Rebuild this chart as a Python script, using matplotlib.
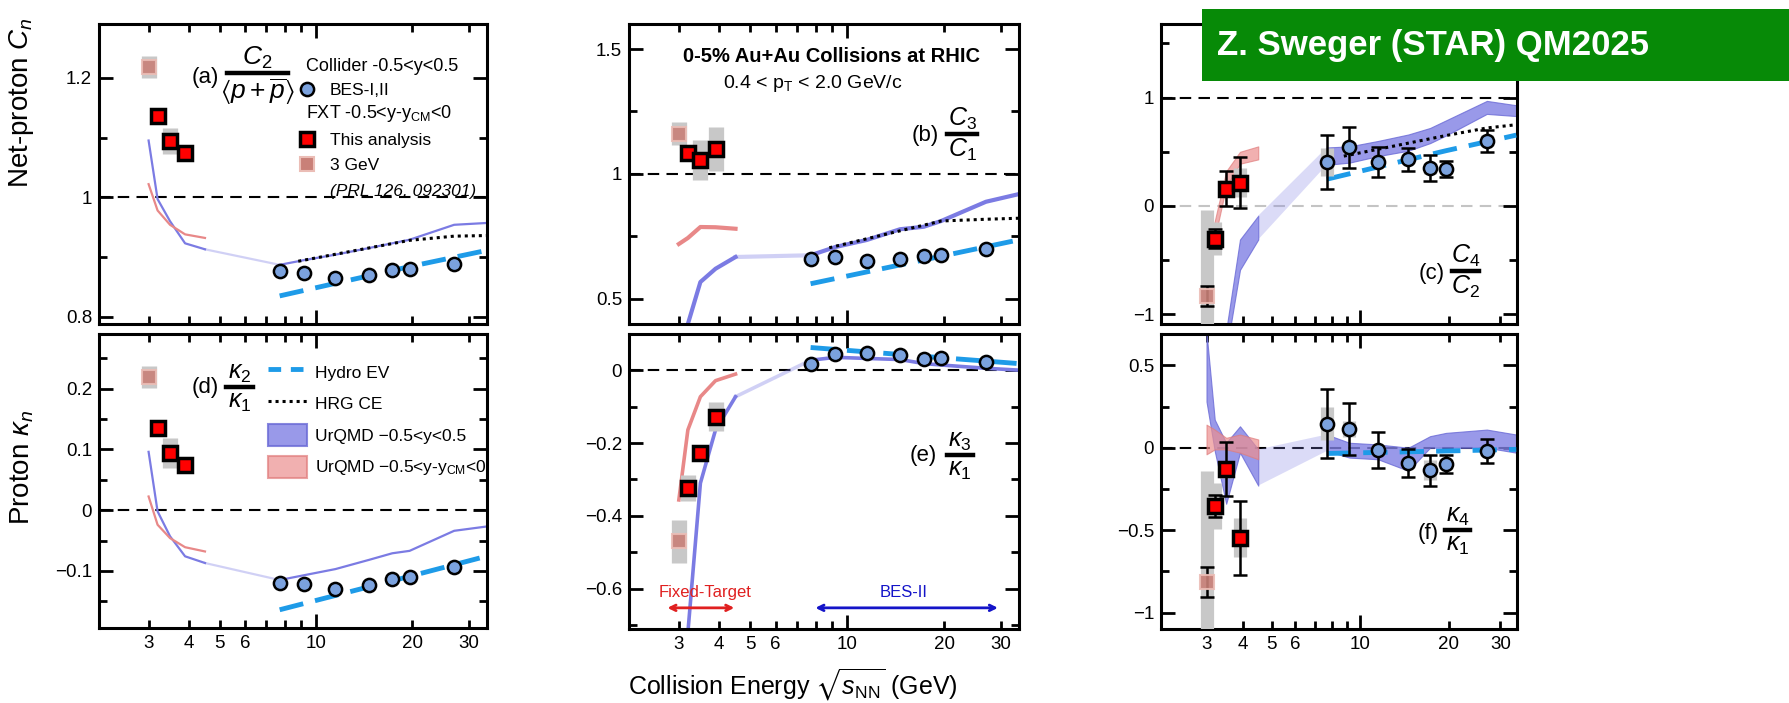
import numpy as np
import matplotlib
matplotlib.use("Agg")
import matplotlib.pyplot as plt
from matplotlib.lines import Line2D
from matplotlib.patches import Patch, Rectangle
from matplotlib import font_manager

nan = np.nan

# ---------------- data ----------------
E_bes = [7.7, 9.2, 11.5, 14.6, 17.3, 19.6, 27.0]
E_fxt = [3.2, 3.5, 3.9]
E_3gev = [3.0]
E_uq_low = [3.0, 3.2, 3.5, 3.9, 4.5]
E_uq_high = [7.7, 9.2, 11.5, 14.6, 17.3, 19.6, 27.0, 34.0]
E_hydro = [7.7, 19.6, 34.0]
E_hrg = [8.8, 19.6, 27.0, 34.0]

x_major = [10]
x_minor = [3, 4, 5, 6, 7, 8, 9, 20, 30]
x_minor_labels = ['3', '4', '5', '6', '', '', '', '20', '30']

# (a) C2/<p+pbar>
a_bes = [0.876, 0.873, 0.865, 0.870, 0.878, 0.880, 0.888]
a_fxt = [1.136, 1.094, 1.074]
a_fxt_sys = [0.008, 0.022, 0.010]
a_3gev = [1.218]
a_3gev_sys = [0.018]
a_uq_low = [1.095, 0.997, 0.960, 0.923, 0.913]
a_uq_high = [0.887, 0.895, 0.904, 0.915, 0.923, 0.929, 0.954, 0.957]
a_uqf = [1.022, 0.978, 0.954, 0.938, 0.932]
a_hydro = [0.835, 0.884, 0.911]
a_hrg = [0.893, 0.928, 0.935, 0.936]

# (b) C3/C1
b_bes = [0.659, 0.669, 0.652, 0.659, 0.672, 0.676, 0.699]
b_fxt = [1.083, 1.055, 1.099]
b_fxt_sys = [0.030, 0.080, 0.088]
b_3gev = [1.161]
b_3gev_sys = [0.047]
b_uq_low = [nan, 0.40, 0.568, 0.621, 0.668]
b_uq_high = [0.675, 0.708, 0.736, 0.779, 0.789, 0.812, 0.889, 0.919]
b_uqf = [0.720, 0.744, 0.788, 0.787, 0.781]
b_hydro = [0.561, 0.671, 0.736]
b_hrg = [0.705, 0.812, 0.819, 0.823]

# (c) C4/C2
c_bes = [0.407, 0.540, 0.407, 0.432, 0.346, 0.340, 0.602]
c_bes_stat = [0.25, 0.19, 0.14, 0.105, 0.12, 0.074, 0.10]
c_bes_sys = [0.13, 0.05, 0.05, 0.04, 0.05, 0.03, 0.05]
c_fxt = [-0.302, 0.160, 0.216]
c_fxt_stat = [0.09, 0.165, 0.236]
c_fxt_sys = [0.15, 0.08, 0.13]
c_3gev = [-0.833]
c_3gev_stat = [0.09]
c_3gev_sys = [0.80]
c_uq_lo_low = [nan, nan, -1.35, -0.59, -0.31]
c_uq_hi_low = [nan, nan, -1.15, -0.31, -0.09]
c_uq_lo_high = [0.38, 0.40, 0.46, 0.51, 0.58, 0.65, 0.85, 0.83]
c_uq_hi_high = [0.54, 0.55, 0.60, 0.66, 0.72, 0.79, 0.97, 0.93]
c_uqf_lo = [-0.95, -0.30, 0.18, 0.39, 0.43]
c_uqf_hi = [-0.75, -0.14, 0.32, 0.50, 0.55]
c_hydro = [0.247, 0.51, 0.654]
c_hrg = [0.46, 0.65, 0.72, 0.75]

# (d) kappa2/kappa1
d_bes = [-0.120, -0.122, -0.129, -0.123, -0.114, -0.110, -0.093]
d_fxt = [0.135, 0.094, 0.075]
d_fxt_sys = [0.006, 0.025, 0.008]
d_3gev = [0.219]
d_3gev_sys = [0.018]
d_uq_low = [0.096, -0.002, -0.043, -0.076, -0.087]
d_uq_high = [-0.115, -0.107, -0.097, -0.082, -0.071, -0.067, -0.034, -0.027]
d_uqf = [0.0225, -0.024, -0.046, -0.061, -0.068]
d_hydro = [-0.164, -0.109, -0.076]

# (e) kappa3/kappa1
e_bes = [0.018, 0.043, 0.047, 0.041, 0.030, 0.032, 0.021]
e_fxt = [-0.324, -0.226, -0.128]
e_fxt_sys = [0.035, 0.010, 0.040]
e_3gev = [-0.470]
e_3gev_sys = [0.058]
e_uq_low = [nan, -0.72, -0.31, -0.164, -0.073]
e_uq_high = [0.027, 0.035, 0.032, 0.029, 0.018, 0.014, 0.005, 0.0]
e_uqf = [-0.356, -0.164, -0.073, -0.029, -0.011]
e_hydro = [0.062, 0.034, 0.018]

# (f) kappa4/kappa1
f_bes = [0.146, 0.115, -0.014, -0.091, -0.136, -0.101, -0.020]
f_bes_stat = [0.21, 0.157, 0.108, 0.086, 0.094, 0.055, 0.071]
f_bes_sys = [0.10, 0.05, 0.03, 0.03, 0.06, 0.03, 0.03]
f_fxt = [-0.354, -0.131, -0.546]
f_fxt_stat = [0.066, 0.165, 0.225]
f_fxt_sys = [0.14, 0.05, 0.12]
f_3gev = [-0.814]
f_3gev_stat = [0.093]
f_3gev_sys = [0.67]
f_uq_lo_low = [0.28, -0.02, -0.34, -0.03, -0.23]
f_uq_hi_low = [0.70, 0.17, 0.03, 0.13, -0.01]
f_uq_lo_high = [-0.02, -0.06, -0.07, -0.14, 0.0, 0.0, 0.0, -0.03]
f_uq_hi_high = [0.08, 0.03, 0.02, 0.0, 0.07, 0.09, 0.11, 0.08]
f_uqf_lo = [-0.04, -0.01, -0.01, -0.03, -0.07]
f_uqf_hi = [0.14, 0.11, 0.06, 0.08, 0.05]
f_hydro = [-0.035, -0.02, -0.01]

# ---------------- style ----------------
plt.rcParams['font.family'] = ['Liberation Sans', 'DejaVu Sans']
plt.rcParams['mathtext.fontset'] = 'custom'
plt.rcParams['mathtext.rm'] = 'Liberation Sans'
plt.rcParams['mathtext.it'] = 'Liberation Sans:italic'
plt.rcParams['mathtext.bf'] = 'Liberation Sans:bold'
plt.rcParams['mathtext.sf'] = 'Liberation Sans'
plt.rcParams['mathtext.fallback'] = 'stixsans'

HYDRO = '#1e9be8'
UQB = '#7b7be3'
UQB_EDGE = '#6a6ad6'
UQR = '#e88888'
GRAY = '#c8c8c8'
CIRC = '#7ba2de'
BROWN = '#c98078'
BROWN_EDGE = '#ebbdb6'

W, H = 1790, 703
fig = plt.figure(figsize=(W / 100, H / 100), dpi=100)


def ax_at(l, t, r, b):
    return fig.add_axes([l / W, 1 - b / H, (r - l) / W, (b - t) / H])


def style(ax, ylim, yt, ytl, ymin, bottom):
    ax.set_xscale('log')
    ax.set_xlim(2.1, 34.2)
    ax.set_ylim(*ylim)
    ax.set_xticks(x_major)
    ax.set_xticks(x_minor, minor=True)
    if bottom:
        ax.set_xticklabels(['10'])
        ax.set_xticklabels(x_minor_labels, minor=True)
    else:
        ax.set_xticklabels([''])
        ax.set_xticklabels([''] * len(x_minor), minor=True)
    ax.set_yticks(yt)
    ax.set_yticklabels(ytl)
    ax.set_yticks(ymin, minor=True)
    ax.tick_params(which='both', direction='in', top=True, right=True,
                   width=2, labelsize=13.5, pad=5)
    ax.tick_params(which='major', length=10)
    ax.tick_params(which='minor', length=6)
    for s in ax.spines.values():
        s.set_linewidth(2.2)


def refline(ax, y, color='k'):
    ax.axhline(y, color=color, lw=1.5, dashes=(5.5, 3.5), zorder=1)


def points(ax, bes, fxt, fxt_sys, g3, g3_sys, bes_sys=None, bes_stat=None,
           fxt_stat=None, g3_stat=None, boxw=11):
    if bes_sys is not None:
        ax.errorbar(E_bes, bes, yerr=bes_sys, fmt='none', ecolor=GRAY,
                    elinewidth=boxw, zorder=4)
    ax.errorbar(E_fxt, fxt, yerr=fxt_sys, fmt='none', ecolor=GRAY,
                elinewidth=boxw, zorder=4)
    ax.errorbar(E_3gev, g3, yerr=g3_sys, fmt='none', ecolor=GRAY,
                elinewidth=boxw, zorder=4)
    ekw = dict(fmt='none', ecolor='k', elinewidth=1.8, capsize=5,
               capthick=1.8, zorder=5)
    if bes_stat is not None:
        ax.errorbar(E_bes, bes, yerr=bes_stat, **ekw)
    if fxt_stat is not None:
        ax.errorbar(E_fxt, fxt, yerr=fxt_stat, **ekw)
    if g3_stat is not None:
        ax.errorbar(E_3gev, g3, yerr=g3_stat, **ekw)
    ax.plot(E_3gev, g3, ls='none', marker='s', ms=10, mfc=BROWN,
            mec=BROWN_EDGE, mew=1.5, alpha=0.9, zorder=6)
    ax.plot(E_fxt, fxt, ls='none', marker='s', ms=9.5, mfc='#ff0000',
            mec='k', mew=2.5, zorder=6)
    ax.plot(E_bes, bes, ls='none', marker='o', ms=9.5, mfc=CIRC, mec='k',
            mew=1.8, zorder=6)


def models(ax, hydro, hrg=None):
    ax.plot(E_hydro, hydro, color=HYDRO, lw=3.5, dashes=(5, 2.5), zorder=3)
    if hrg is not None:
        ax.plot(E_hrg, hrg, color='k', lw=2.2, dashes=(1, 1.3), zorder=3)


def uq_lines(ax, low, high, fxt_vals, lw):
    ax.plot(E_uq_low, low, color=UQB, lw=lw, zorder=2)
    ax.plot([E_uq_low[-1], E_uq_high[0]], [low[-1], high[0]], color=UQB,
            lw=lw, alpha=0.35, zorder=2)
    ax.plot(E_uq_high, high, color=UQB, lw=lw, zorder=2)
    ax.plot(E_uq_low, fxt_vals, color=UQR, lw=lw, zorder=2)


def uq_bands(ax, lo_low, hi_low, lo_high, hi_high, f_lo, f_hi):
    kw = dict(facecolor='#8080e4', edgecolor=UQB_EDGE, lw=0.8, alpha=0.8,
              zorder=2)
    ax.fill_between(E_uq_low, lo_low, hi_low, **kw)
    ax.fill_between([E_uq_low[-1], E_uq_high[0]], [lo_low[-1], lo_high[0]],
                    [hi_low[-1], hi_high[0]], facecolor='#8080e4', alpha=0.28,
                    lw=0, zorder=2)
    ax.fill_between(E_uq_high, lo_high, hi_high, **kw)
    ax.fill_between(E_uq_low, f_lo, f_hi, facecolor='#ec8f8f',
                    edgecolor='#e07c7c', lw=0.8, alpha=0.7, zorder=2)


def frac(xl, xr, y, num, den, lab, xlab, ylab, fs=18):
    fig.add_artist(Line2D([xl / W, xr / W], [1 - y / H, 1 - y / H], color='k',
                          lw=3.2, transform=fig.transFigure))
    fig.text((xl + xr) / 2 / W, 1 - (y - 2) / H, num, ha='center',
             va='bottom', fontsize=fs)
    fig.text((xl + xr) / 2 / W, 1 - (y + 3) / H, den, ha='center', va='top',
             fontsize=fs)
    fig.text(xlab / W, 1 - ylab / H, lab, ha='center', va='center',
             fontsize=16)


M = '\u2212'

# ---------------- panel (a) ----------------
ax_a = ax_at(99, 24, 487, 324)
style(ax_a, (0.788, 1.29), [0.8, 1.0, 1.2], ['0.8', '1', '1.2'], [0.9, 1.1], False)
refline(ax_a, 1.0)
uq_lines(ax_a, a_uq_low, a_uq_high, a_uqf, 1.6)
models(ax_a, a_hydro, a_hrg)
points(ax_a, a_bes, a_fxt, a_fxt_sys, a_3gev, a_3gev_sys)

blank = Line2D([], [], ls='none')
h_c = Line2D([], [], ls='none', marker='o', ms=9.5, mfc=CIRC, mec='k', mew=1.8)
h_r = Line2D([], [], ls='none', marker='s', ms=9.5, mfc='#ff0000', mec='k', mew=2.5)
h_b = Line2D([], [], ls='none', marker='s', ms=10, mfc=BROWN, mec=BROWN_EDGE, mew=1.5)
leg_a = ax_a.legend([blank, h_c, blank, h_r, h_b, blank],
                    [' ', 'BES-I,II', ' ', 'This analysis', '3 GeV', '(PRL 126, 092301)'],
                    loc='upper left', bbox_to_anchor=(0.513, 0.889), frameon=False,
                    fontsize=12.5, handlelength=1.0, handletextpad=0.82,
                    labelspacing=0.58, borderpad=0, borderaxespad=0,
                    handleheight=0.7, numpoints=1)
leg_a.get_texts()[5].set_fontstyle('italic')
ax_a.text(0.533, 0.857, 'Collider -0.5<y<0.5', transform=ax_a.transAxes,
          fontsize=13, va='center', ha='left')
ax_a.text(0.533, 0.703, r'FXT -0.5<y-y$_\mathrm{CM}$<0', transform=ax_a.transAxes,
          fontsize=13, va='center', ha='left')

# ---------------- panel (b) ----------------
ax_b = ax_at(629, 24, 1019, 324)
style(ax_b, (0.4, 1.6), [0.5, 1.0, 1.5], ['0.5', '1', '1.5'], [0.75, 1.25], False)
refline(ax_b, 1.0)
uq_lines(ax_b, b_uq_low, b_uq_high, b_uqf, 3.0)
models(ax_b, b_hydro, b_hrg)
points(ax_b, b_bes, b_fxt, b_fxt_sys, b_3gev, b_3gev_sys)
fig.text(832 / W, 1 - 57 / H, '0-5% Au+Au Collisions at RHIC', ha='center',
         va='center', fontsize=14.5, fontweight='bold')
fig.text(813 / W, 1 - 83 / H, r'0.4 < p$_\mathrm{T}$ < 2.0 GeV/c', ha='center',
         va='center', fontsize=14)

# ---------------- panel (c) ----------------
ax_c = ax_at(1161, 24, 1517, 324)
style(ax_c, (-1.09, 1.68), [-1, 0, 1], [M + '1', '0', '1'], [-0.5, 0.5, 1.5], False)
refline(ax_c, 1.0)
refline(ax_c, 0.0, color='#c4c4c4')
uq_bands(ax_c, c_uq_lo_low, c_uq_hi_low, c_uq_lo_high, c_uq_hi_high, c_uqf_lo, c_uqf_hi)
models(ax_c, c_hydro, c_hrg)
points(ax_c, c_bes, c_fxt, c_fxt_sys, c_3gev, c_3gev_sys, bes_sys=c_bes_sys,
       bes_stat=c_bes_stat, fxt_stat=c_fxt_stat, g3_stat=c_3gev_stat, boxw=9.5)

# ---------------- panel (d) ----------------
ax_d = ax_at(99, 334, 487, 628)
style(ax_d, (-0.194, 0.29), [-0.1, 0, 0.1, 0.2], [M + '0.1', '0', '0.1', '0.2'],
      [-0.15, -0.05, 0.05, 0.15, 0.25], True)
refline(ax_d, 0.0)
uq_lines(ax_d, d_uq_low, d_uq_high, d_uqf, 1.6)
models(ax_d, d_hydro)
points(ax_d, d_bes, d_fxt, d_fxt_sys, d_3gev, d_3gev_sys)
hl = [Line2D([], [], color=HYDRO, lw=3.5, dashes=(2.6, 2.0)),
      Line2D([], [], color='k', lw=2.2, dashes=(1, 1.3)),
      Patch(facecolor='#8080e4', edgecolor=UQB_EDGE, alpha=0.8, lw=1.5),
      Patch(facecolor='#ec8f8f', edgecolor='#e07c7c', alpha=0.7, lw=1.5)]
ax_d.legend(hl, ['Hydro EV', 'HRG CE', 'UrQMD ' + M + '0.5<y<0.5',
                 'UrQMD ' + M + r'0.5<y-y$_\mathrm{CM}$<0'],
            loc='upper left', bbox_to_anchor=(0.436, 0.908), frameon=False,
            fontsize=12.5, handlelength=2.24, handleheight=1.6,
            handletextpad=0.46, labelspacing=0.53, borderpad=0, borderaxespad=0)

# ---------------- panel (e) ----------------
ax_e = ax_at(629, 334, 1019, 629)
style(ax_e, (-0.71, 0.099), [-0.6, -0.4, -0.2, 0], [M + '0.6', M + '0.4', M + '0.2', '0'],
      [-0.7, -0.5, -0.3, -0.1], True)
refline(ax_e, 0.0)
uq_lines(ax_e, e_uq_low, e_uq_high, e_uqf, 2.6)
models(ax_e, e_hydro)
points(ax_e, e_bes, e_fxt, e_fxt_sys, e_3gev, e_3gev_sys)
ax_e.annotate('', xy=(4.55, -0.652), xytext=(2.71, -0.652),
              arrowprops=dict(arrowstyle='<->', color='#e02020', lw=2))
ax_e.text(3.62, -0.611, 'Fixed-Target', color='#e02020', fontsize=12,
          ha='center', va='center')
ax_e.annotate('', xy=(30.0, -0.652), xytext=(7.81, -0.652),
              arrowprops=dict(arrowstyle='<->', color='#1414c8', lw=2))
ax_e.text(15.0, -0.611, 'BES-II', color='#1414c8', fontsize=12,
          ha='center', va='center')

# ---------------- panel (f) ----------------
ax_f = ax_at(1161, 334, 1517, 629)
style(ax_f, (-1.1, 0.69), [-1, -0.5, 0, 0.5], [M + '1', M + '0.5', '0', '0.5'],
      [-0.75, -0.25, 0.25], True)
refline(ax_f, 0.0)
uq_bands(ax_f, f_uq_lo_low, f_uq_hi_low, f_uq_lo_high, f_uq_hi_high, f_uqf_lo, f_uqf_hi)
models(ax_f, f_hydro)
points(ax_f, f_bes, f_fxt, f_fxt_sys, f_3gev, f_3gev_sys, bes_sys=f_bes_sys,
       bes_stat=f_bes_stat, fxt_stat=f_fxt_stat, g3_stat=f_3gev_stat, boxw=9.5)

# ---------------- panel labels with fractions ----------------
frac(227, 288, 73, r'$C_\mathit{2}$', r'$\langle p+\overline{p}\rangle$', '(a)', 205, 78, fs=19)
frac(947, 977, 134, r'$C_\mathit{3}$', r'$C_\mathit{1}$', '(b)', 925, 135)
frac(1452, 1479, 271, r'$C_\mathit{4}$', r'$C_\mathit{2}$', '(c)', 1432, 273)
frac(226, 253, 387, r'$\kappa_\mathit{2}$', r'$\kappa_\mathit{1}$', '(d)', 205, 388)
frac(947, 973, 455, r'$\kappa_\mathit{3}$', r'$\kappa_\mathit{1}$', '(e)', 923, 455)
frac(1445, 1470, 530, r'$\kappa_\mathit{4}$', r'$\kappa_\mathit{1}$', '(f)', 1428, 533)

# ---------------- axis titles ----------------
fig.text(22 / W, 1 - 103 / H, 'Net-proton $C_n$', rotation=90, ha='center',
         va='center', fontsize=20)
fig.text(22 / W, 1 - 467 / H, r'Proton $\kappa_n$', rotation=90, ha='center',
         va='center', fontsize=20)
fig.text(793 / W, 1 - 685 / H, r'Collision Energy $\sqrt{s_\mathrm{NN}}$ (GeV)',
         ha='center', va='center', fontsize=18)

# ---------------- banner ----------------
names = {f.name for f in font_manager.fontManager.ttflist}
if 'Liberation Sans Narrow' in names:
    bfam, bsize = 'Liberation Sans Narrow', 30
else:
    bfam, bsize = 'Liberation Sans', 25
fig.add_artist(Rectangle((1202 / W, 1 - 81 / H), 1 - 1202 / W, 72 / H,
                         transform=fig.transFigure, facecolor='#078a07',
                         edgecolor='none', zorder=10))
fig.text(1217 / W, 1 - 46 / H, 'Z. Sweger (STAR) QM2025', color='white',
         fontweight='bold', fontsize=bsize, family=bfam, ha='left',
         va='center', zorder=11)

fig.savefig('out.png', dpi=100)
